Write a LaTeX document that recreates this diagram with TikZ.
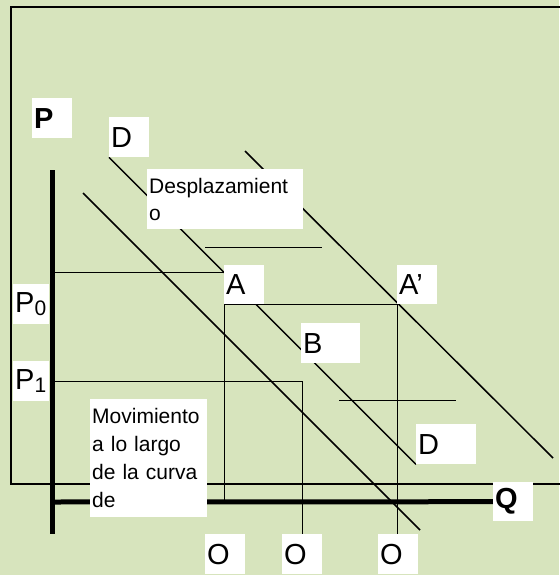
\documentclass[tikz,border=0pt]{standalone}
\usepackage{fontspec}
\setmainfont{Liberation Sans}
\definecolor{bgc}{HTML}{D7E4BD}
\definecolor{thin}{HTML}{303030}
\pgfdeclarelayer{back}
\pgfdeclarelayer{lines}
\pgfsetlayers{back,lines,main}
\begin{document}
\begin{tikzpicture}[x=1pt,y=-1pt,
  lbl/.style={fill=white, anchor=north west, inner ysep=0pt, inner xsep=2pt,
    align=left, font=\fontsize{29}{32}\selectfont},
  small/.style={lbl, font=\fontsize{21}{27}\selectfont},
  demand/.style={line width=1.5pt, black},
  guide/.style={line width=1pt, thin},
  axis/.style={line width=5pt, black},
  frame/.style={line width=2pt, black}]
\useasboundingbox (0,0) rectangle (559,575);
\begin{pgfonlayer}{back}
  \fill[bgc] (0,0) rectangle (559,575);
\end{pgfonlayer}

% labels
\node[lbl, text width=36pt, minimum height=40pt] (P) at (32,98) {\textbf{P}};
\node[lbl, text width=36pt, minimum height=40pt] (Dt) at (109,117) {D};
\node[small, text width=152pt, minimum height=60pt] (Desp) at (147,169) {Desplazamient\\o};
\node[lbl, text width=36pt, minimum height=39pt] (A) at (224,265) {A};
\node[lbl, text width=36pt, minimum height=39pt] (Ap) at (397,265) {A’};
\node[lbl, text width=32pt, minimum height=40pt] (P0) at (13,284) {P\raisebox{-3.5pt}{\fontsize{21}{21}\selectfont 0}};
\node[lbl, text width=32pt, minimum height=40pt] (P1) at (13,361) {P\raisebox{-3.5pt}{\fontsize{21}{21}\selectfont 1}};
\node[lbl, text width=55pt, minimum height=40pt] (B) at (301,323) {B};
\node[small, text width=113pt, minimum height=118pt, font=\fontsize{21}{28}\selectfont] (Mov) at (90,399) {Movimiento\\a lo largo\\de la curva\\de};
\node[lbl, text width=56pt, minimum height=40pt] (Dl) at (416,424) {D};
\node[lbl, text width=36pt, minimum height=39pt] (Q) at (493,482) {\textbf{Q}};
\node[lbl, text width=36pt, minimum height=40pt] (O1) at (205,534) {O};
\node[lbl, text width=36pt, minimum height=40pt] (O2) at (282,534) {O};
\node[lbl, text width=36pt, minimum height=40pt] (O3) at (378,534) {O};

% coordinates
\coordinate (f1) at (560,7);
\coordinate (f2) at (11,7);
\coordinate (f3) at (11,484);
\coordinate (f4) at (560,484);
\coordinate (pt) at (52,170);
\coordinate (pb) at (52,534);
\coordinate (qo) at (52,502);
\coordinate (pa) at (52,272);
\coordinate (pa2) at (224,272);
\coordinate (pp1) at (52,381);
\coordinate (l2a) at (83,193);
\coordinate (l2b) at (420,530);
\coordinate (l3a) at (245,151);
\coordinate (l3b) at (553,458);
\coordinate (h1a) at (205,247);
\coordinate (h1b) at (322,247);
\coordinate (h2a) at (339,400);
\coordinate (h2b) at (456,400);

\begin{pgfonlayer}{lines}
  \draw[frame] (f1) -- (f2) -- (f3) -- (f4);
  \draw[guide] (pa) -- (pa2);
  \draw[guide] (A.south west) -- (Ap.south west);
  \draw[guide] (A.south west) -- (A.south west |- qo);
  \draw[guide] (Ap.south west) -- (Ap.south west |- O3.north);
  \draw[guide] (pp1) -| (O2.north);
  \draw[guide] (h1a) -- (h1b);
  \draw[guide] (h2a) -- (h2b);
  \draw[demand] (Dt.south west) -- (Dl.south west);
  \draw[demand] (l2a) -- (l2b);
  \draw[demand] (l3a) -- (l3b);
  \draw[axis] (pt) -- (pb);
  \draw[axis] (qo) -- (Q.west);
\end{pgfonlayer}
\end{tikzpicture}
\end{document}
